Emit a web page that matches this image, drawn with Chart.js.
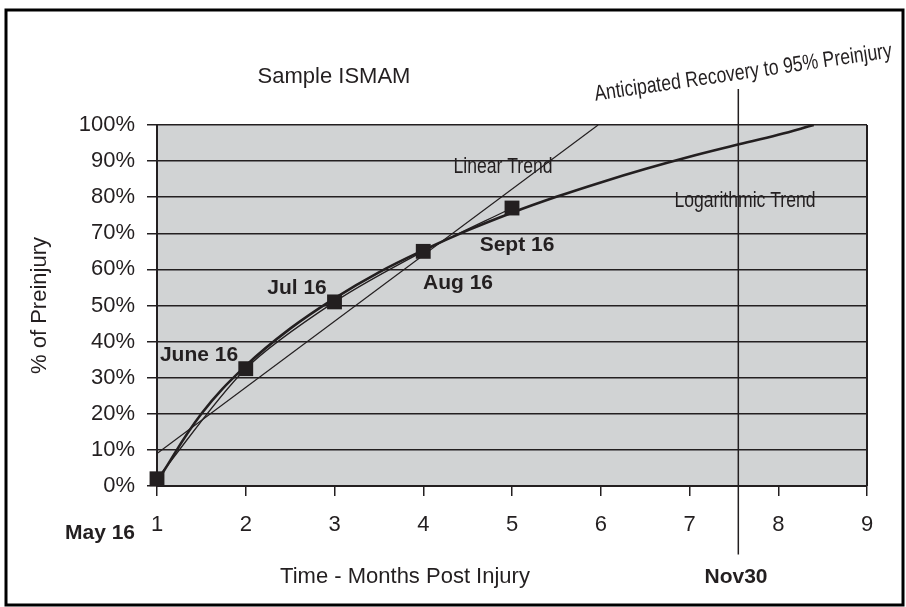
<!DOCTYPE html>
<html>
<head>
<meta charset="utf-8">
<title>Sample ISMAM</title>
<script src="https://cdn.jsdelivr.net/npm/chart.js@4.4.1/dist/chart.umd.min.js"></script>
<style>
    body { margin: 0; background: #fff; }
    #chart { display: block; }
</style>
</head>
<body>
<canvas id="chart" width="906" height="607"></canvas>
<script>
"use strict";

// measured visits (months post injury, % of preinjury)
const months = [1, 2, 3, 4, 5];
const preinjury = [2, 32.5, 51, 65, 77];

// trend lines
const logMonths = [1, 1.5, 2, 2.5, 3, 3.5, 4, 4.5, 5, 5.5, 6, 6.5, 7, 7.5, 8, 8.4];
const logTrend = [1.2, 20, 33.3, 43.6, 52, 59.2, 65.3, 70.8, 75.7, 80.1, 84.1, 87.8, 91.2, 94.3, 97.3, 100];
const linearMonths = [1, 5.97];
const linearTrend = [9, 100];

// Nov30 - anticipated recovery to 95%
const recoveryMonths = [7.55, 7.55];
const recoveryLine = [-19, 110];

// axes
const xRange = [1, 9];
const yRange = [0, 100];

const INK = "#231f20";
const FONT = "'Liberation Sans', Arial, Helvetica, sans-serif";

function points(xs, ys) {
    return xs.map((x, i) => ({x: x, y: ys[i]}));
}

// text drawn on top of the chart: [text, x, y, bold]
const labels = [
    ["Sample ISMAM", 334, 77, false],
    ["June 16", 199, 355, true],
    ["Jul 16", 297, 288, true],
    ["Aug 16", 458, 283, true],
    ["Sept 16", 517, 245, true],
    ["May 16", 100, 533, true],
    ["Time - Months Post Injury", 405, 577, false],
    ["Nov30", 736, 577, true]
];
// condensed labels: [text, x, baseline y, rotation deg]
const narrowLabels = [
    ["Linear Trend", 503, 173, 0],
    ["Logarithmic Trend", 745, 207, 0],
    ["Anticipated Recovery to 95% Preinjury", 744, 79, -8.3]
];

const framePlugin = {
    id: "frame",
    beforeDraw(chart) {
        const {ctx, chartArea: a} = chart;
        ctx.save();
        ctx.fillStyle = "#fff";
        ctx.fillRect(0, 0, chart.width, chart.height);
        ctx.fillStyle = "#d1d3d4";
        ctx.fillRect(a.left, a.top, a.right - a.left, a.bottom - a.top);
        ctx.restore();
    },
    beforeDatasetsDraw(chart) {
        const {ctx, chartArea: a} = chart;
        ctx.save();
        ctx.strokeStyle = INK;
        ctx.lineWidth = 2;
        ctx.beginPath();
        ctx.moveTo(a.right, a.top);
        ctx.lineTo(a.right, a.bottom);
        ctx.stroke();
        ctx.restore();
    },
    afterDraw(chart) {
        const ctx = chart.ctx;
        ctx.save();
        ctx.fillStyle = INK;
        ctx.textAlign = "center";
        ctx.textBaseline = "middle";
        labels.forEach(([text, x, y, bold]) => {
            ctx.font = (bold ? "bold 21px " : "22px ") + FONT;
            ctx.fillText(text, x, y);
        });

        ctx.textBaseline = "alphabetic";
        ctx.font = "22px " + FONT;
        narrowLabels.forEach(([text, x, y, rot]) => {
            ctx.save();
            ctx.translate(x, y);
            ctx.rotate(rot * Math.PI / 180);
            ctx.scale(0.8, 1);
            ctx.fillText(text, 0, 0);
            ctx.restore();
        });

        // outer box
        ctx.strokeStyle = "#000";
        ctx.lineWidth = 3;
        ctx.strokeRect(6, 10, 897, 595);
        ctx.restore();
    }
};

Chart.defaults.font.family = FONT;
Chart.defaults.color = INK;

new Chart(document.getElementById("chart"), {
    type: "scatter",
    data: {
        datasets: [
            {
                label: "% of Preinjury",
                data: points(months, preinjury),
                showLine: true,
                clip: false,
                tension: 0.3,
                borderColor: INK,
                borderWidth: 1.3,
                pointStyle: "rect",
                pointRadius: 10.5,
                pointBorderWidth: 0,
                pointBackgroundColor: INK
            },
            {
                label: "Logarithmic Trend",
                data: points(logMonths, logTrend),
                showLine: true,
                tension: 0.4,
                borderColor: INK,
                borderWidth: 2.6,
                pointRadius: 0
            },
            {
                label: "Linear Trend",
                data: points(linearMonths, linearTrend),
                showLine: true,
                borderColor: INK,
                borderWidth: 1.2,
                pointRadius: 0
            },
            {
                label: "Nov30",
                data: points(recoveryMonths, recoveryLine),
                showLine: true,
                clip: false,
                borderColor: INK,
                borderWidth: 1.5,
                pointRadius: 0
            }
        ]
    },
    options: {
        responsive: false,
        animation: false,
        devicePixelRatio: 1,
        layout: {padding: {left: 0, top: 125, right: 39, bottom: 0}},
        plugins: {
            legend: {display: false},
            tooltip: {enabled: false}
        },
        scales: {
            x: {
                type: "linear",
                min: xRange[0],
                max: xRange[1],
                afterFit: scale => { scale.height = 121; },
                ticks: {stepSize: 1, padding: 16, font: {size: 22}, color: INK},
                grid: {drawOnChartArea: false, drawTicks: true, tickLength: 10, color: INK, lineWidth: 1.5},
                border: {display: true, color: INK, width: 2}
            },
            y: {
                min: yRange[0],
                max: yRange[1],
                afterFit: scale => { scale.width = 157; },
                ticks: {stepSize: 10, padding: 12, font: {size: 22}, color: INK,
                    callback: v => v + "%"},
                grid: {color: INK, lineWidth: 1.5, drawTicks: true, tickLength: 10},
                border: {display: true, color: INK, width: 2},
                title: {display: true, text: "% of Preinjury", font: {size: 22}, color: INK,
                    padding: {top: 27, bottom: 0}}
            }
        }
    },
    plugins: [framePlugin]
});
</script>
</body>
</html>
